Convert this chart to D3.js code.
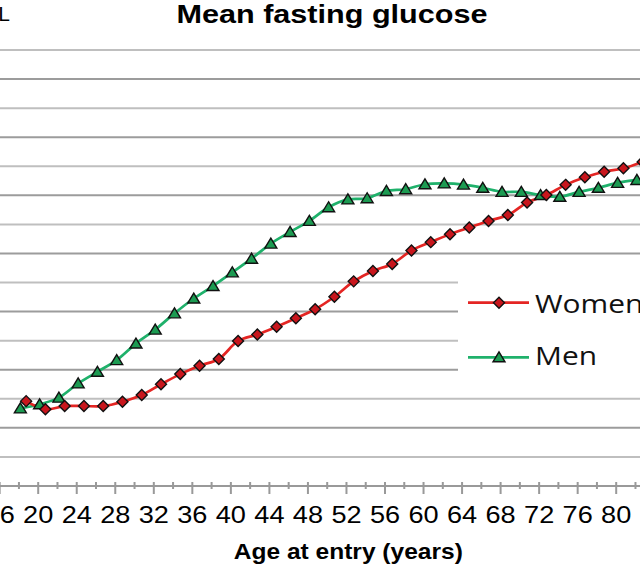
<!DOCTYPE html>
<html>
<head>
<meta charset="utf-8">
<script src="https://cdn.jsdelivr.net/npm/d3@7"></script>
<style>
  body { margin: 0; background: #fff; }
  svg { display: block; }
</style>
</head>
<body>
<div id="chart"></div>
<script>
// ages at entry (years) for each plotted point
var menAges = [18.2, 20.2, 22.2, 24.2, 26.2, 28.2, 30.2, 32.2, 34.2, 36.2, 38.2, 40.2, 42.2, 44.2, 46.2, 48.2, 50.2,
               52.2, 54.2, 56.2, 58.2, 60.2, 62.2, 64.2, 66.2, 68.2, 70.2, 72.2, 74.2, 76.2, 78.2, 80.2, 82.2];
var womenAges = [18.8, 20.8, 22.8, 24.8, 26.8, 28.8, 30.8, 32.8, 34.8, 36.8, 38.8, 40.8, 42.8, 44.8, 46.8, 48.8, 50.8,
                 52.8, 54.8, 56.8, 58.8, 60.8, 62.8, 64.8, 66.8, 68.8, 70.8, 72.8, 74.8, 76.8, 78.8, 80.8, 82.8];

// mean fasting glucose (mmol/L)
var menGlucose = [4.767, 4.781, 4.804, 4.853, 4.893, 4.933, 4.990, 5.038, 5.094, 5.145, 5.188, 5.235, 5.282, 5.334,
                  5.374, 5.412, 5.459, 5.486, 5.490, 5.515, 5.521, 5.538, 5.541, 5.537, 5.526, 5.512, 5.512, 5.501,
                  5.495, 5.512, 5.526, 5.543, 5.553];
var womenGlucose = [4.792, 4.764, 4.775, 4.775, 4.775, 4.790, 4.813, 4.850, 4.885, 4.914, 4.937, 4.999, 5.021, 5.048,
                    5.077, 5.108, 5.151, 5.204, 5.240, 5.264, 5.310, 5.339, 5.366, 5.389, 5.412, 5.432, 5.475, 5.501,
                    5.536, 5.562, 5.581, 5.593, 5.615];

// axis ticks
var xTicks = [16, 18, 20, 22, 24, 26, 28, 30, 32, 34, 36, 38, 40, 42, 44, 46, 48, 50, 52, 54, 56, 58, 60, 62, 64,
              66, 68, 70, 72, 74, 76, 78, 80, 82, 84];
var xLabels = [16, 20, 24, 28, 32, 36, 40, 44, 48, 52, 56, 60, 64, 68, 72, 76, 80, 84];
var yGrid = [4.6, 4.7, 4.8, 4.9, 5.0, 5.1, 5.2, 5.3, 5.4, 5.5, 5.6, 5.7, 5.8, 5.9, 6.0];

var width = 640, height = 570;
var stretch = 1.18; // the source picture is a little wider than tall

var svg = d3.select("#chart")
  .append("svg")
  .attr("width", width)
  .attr("height", height);

// scales - plot runs off the left and right edges of the picture
var x = d3.scaleLinear().domain([20, 80]).range([37.7, 615.7]);
var y = d3.scaleLinear().domain([4.5, 6.0]).range([486, 50]);

// horizontal gridlines
svg.append("g").selectAll("line")
  .data(yGrid)
  .enter().append("line")
  .attr("x1", 0)
  .attr("x2", width)
  .attr("y1", d => y(d))
  .attr("y2", d => y(d))
  .attr("stroke", d => Math.round(d * 10) % 2 ? "#9c9c9c" : "#bfbfbf")
  .attr("stroke-width", 2);

// x axis
var xAxis = svg.append("g")
  .attr("transform", `translate(0, ${y(4.5)})`)
  .call(d3.axisBottom(x)
    .tickValues(xTicks)
    .tickSize(0)
    .tickPadding(0)
    .tickFormat(d => xLabels.indexOf(d) >= 0 ? d : ""));

xAxis.select(".domain")
  .attr("d", `M0,0H${width}`)
  .attr("stroke", "#999")
  .attr("stroke-width", 2);

xAxis.selectAll(".tick line")
  .attr("stroke", "#999")
  .attr("stroke-width", 2)
  .attr("y1", -4)
  .attr("y2", d => xLabels.indexOf(d) >= 0 ? 8 : 3);

xAxis.selectAll(".tick text")
  .attr("y", 37)
  .attr("dy", null)
  .attr("transform", `scale(${stretch},1)`)
  .attr("fill", "#000")
  .style("font-family", "'Liberation Sans', Arial, sans-serif")
  .style("font-size", "23px");

// lines
var lineGen = d3.line()
  .x(d => x(d[0]))
  .y(d => y(d[1]))
  .curve(d3.curveCatmullRom);

var women = d3.zip(womenAges, womenGlucose);
var men = d3.zip(menAges, menGlucose);

svg.append("path")
  .datum(men)
  .attr("fill", "none")
  .attr("stroke", "#1fb16b")
  .attr("stroke-width", 2.7)
  .attr("d", lineGen);

svg.append("path")
  .datum(women)
  .attr("fill", "none")
  .attr("stroke", "#e42523")
  .attr("stroke-width", 2.7)
  .attr("d", lineGen);

var diamond = "M0,-5.5L5.5,0L0,5.5L-5.5,0Z";
var triangle = "M0,-5.5L6,4.5L-6,4.5Z";

svg.append("g").selectAll("path")
  .data(men)
  .enter().append("path")
  .attr("d", triangle)
  .attr("transform", d => `translate(${x(d[0])}, ${y(d[1])})`)
  .attr("fill", "#1c9b52")
  .attr("stroke", "#111")
  .attr("stroke-width", 1.4);

svg.append("g").selectAll("path")
  .data(women)
  .enter().append("path")
  .attr("d", diamond)
  .attr("transform", d => `translate(${x(d[0])}, ${y(d[1])})`)
  .attr("fill", "#c8161d")
  .attr("stroke", "#111")
  .attr("stroke-width", 1.4);

// legend
var legend = svg.append("g");
legend.append("rect")
  .attr("x", 458)
  .attr("y", 268)
  .attr("width", 190)
  .attr("height", 116)
  .attr("fill", "#fff");

var legendItems = [
  {name: "Women", color: "#e42523", fill: "#c8161d", shape: diamond, cy: 302.7, base: 313.3},
  {name: "Men", color: "#1fb16b", fill: "#1c9b52", shape: triangle, cy: 357.3, base: 365}
];

legendItems.forEach(function(item) {
  legend.append("line")
    .attr("x1", 468).attr("x2", 529)
    .attr("y1", item.cy).attr("y2", item.cy)
    .attr("stroke", item.color)
    .attr("stroke-width", 2.7);
  legend.append("path")
    .attr("d", item.shape)
    .attr("transform", `translate(499, ${item.cy})`)
    .attr("fill", item.fill)
    .attr("stroke", "#111")
    .attr("stroke-width", 1.4);
  legend.append("text")
    .attr("transform", `translate(535, ${item.base}) scale(1.15,1)`)
    .style("font-family", "'Open Sans', sans-serif")
    .style("font-size", "26px")
    .attr("fill", "#111")
    .text(item.name);
});

// title and axis labels
svg.append("text")
  .attr("transform", `translate(332, 23.3) scale(1.2,1)`)
  .attr("text-anchor", "middle")
  .style("font-family", "'Liberation Sans', Arial, sans-serif")
  .style("font-weight", "bold")
  .style("font-size", "25.5px")
  .text("Mean fasting glucose");

svg.append("text")
  .attr("transform", `translate(348.3, 559.3) scale(1.1,1)`)
  .attr("text-anchor", "middle")
  .style("font-family", "'Liberation Sans', Arial, sans-serif")
  .style("font-weight", "bold")
  .style("font-size", "22.3px")
  .text("Age at entry (years)");

// y unit label, mostly off the left edge
svg.append("text")
  .attr("transform", `translate(10, 20.5)`)
  .attr("text-anchor", "end")
  .style("font-family", "'Liberation Sans', Arial, sans-serif")
  .style("font-size", "21px")
  .text("mmol/L");
</script>
</body>
</html>
